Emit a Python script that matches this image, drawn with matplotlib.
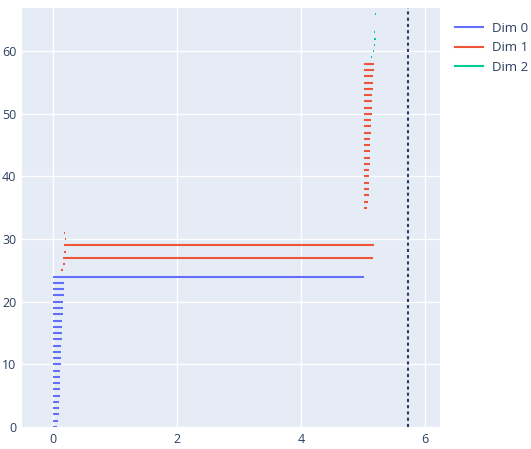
import numpy as np
import matplotlib.pyplot as plt
from matplotlib.lines import Line2D

plt.rcParams['font.family'] = ['Open Sans', 'DejaVu Sans']

# persistence intervals (birth, death), one bar per row, stacked upward
dim0_birth = [0.0] * 25
dim0_death = [0.054, 0.076, 0.092, 0.092, 0.097, 0.103, 0.108, 0.108, 0.113, 0.113,
              0.119, 0.119, 0.130, 0.130, 0.135, 0.140, 0.146, 0.146, 0.151, 0.156,
              0.162, 0.167, 0.173, 0.173, 5.01]

dim1_birth = [0.124, 0.156, 0.161, 0.173, 0.177, 0.184, 0.177, 0.18, 0.185, 0.19,
              5.006, 5.006, 5.006, 5.006, 5.006, 5.006, 5.006, 5.006, 5.006, 5.006,
              5.006, 5.006, 5.006, 5.006, 5.006, 5.006, 5.006, 5.006, 5.006, 5.006,
              5.006, 5.006, 5.006, 5.006]
dim1_death = [0.152, 0.184, 5.157, 0.205, 5.17, 0.2, 0.185, 0.18, 0.185, 0.194,
              5.06, 5.071, 5.087, 5.087, 5.092, 5.097, 5.097, 5.103, 5.108, 5.108,
              5.108, 5.113, 5.119, 5.124, 5.129, 5.14, 5.14, 5.145, 5.145, 5.152,
              5.152, 5.156, 5.168, 5.168]

dim2_birth = [5.124, 5.156, 5.168, 5.173, 5.177, 5.18, 5.185, 5.194]
dim2_death = [5.145, 5.168, 5.189, 5.2, 5.184, 5.18, 5.185, 5.2]

inf_value = 5.717
dims = ['Dim 0', 'Dim 1', 'Dim 2']
colors = ['#636efa', '#EF553B', '#00cc96']

fig = plt.figure(figsize=(5.31, 4.49), dpi=100)
ax = fig.add_axes([22 / 531, 1 - 427 / 449, 418 / 531, 419 / 449])
ax.set_facecolor('#E5ECF6')

row = 0
for births, deaths, col in [(dim0_birth, dim0_death, colors[0]),
                            (dim1_birth, dim1_death, colors[1]),
                            (dim2_birth, dim2_death, colors[2])]:
    ys = np.arange(row, row + len(births))
    ax.hlines(ys, births, deaths, color=col, lw=1.5, capstyle='butt')
    row += len(births)

ax.axvline(inf_value, color='#2a3f5f', lw=1.5, dashes=(1.5, 1.5))

ax.set_xlim(-0.505, 6.237)
ax.set_ylim(0, 66.9)
ax.set_xticks([0, 2, 4, 6])
ax.set_yticks([0, 10, 20, 30, 40, 50, 60])
ax.grid(True, color='white', lw=1)
ax.set_axisbelow(True)
for s in ax.spines.values():
    s.set_visible(False)
ax.tick_params(length=0, labelsize=9, labelcolor='#2a3f5f', pad=4)

handles = [Line2D([], [], color=c, lw=1.5) for c in colors]
fig.legend(handles, dims, loc='upper left', bbox_to_anchor=(443 / 531, 1 - 10 / 449),
           frameon=False, fontsize=9.5, labelcolor='#2a3f5f', handlelength=2.1,
           handletextpad=0.7, labelspacing=0.5)

fig.savefig('out.png', dpi=100)
